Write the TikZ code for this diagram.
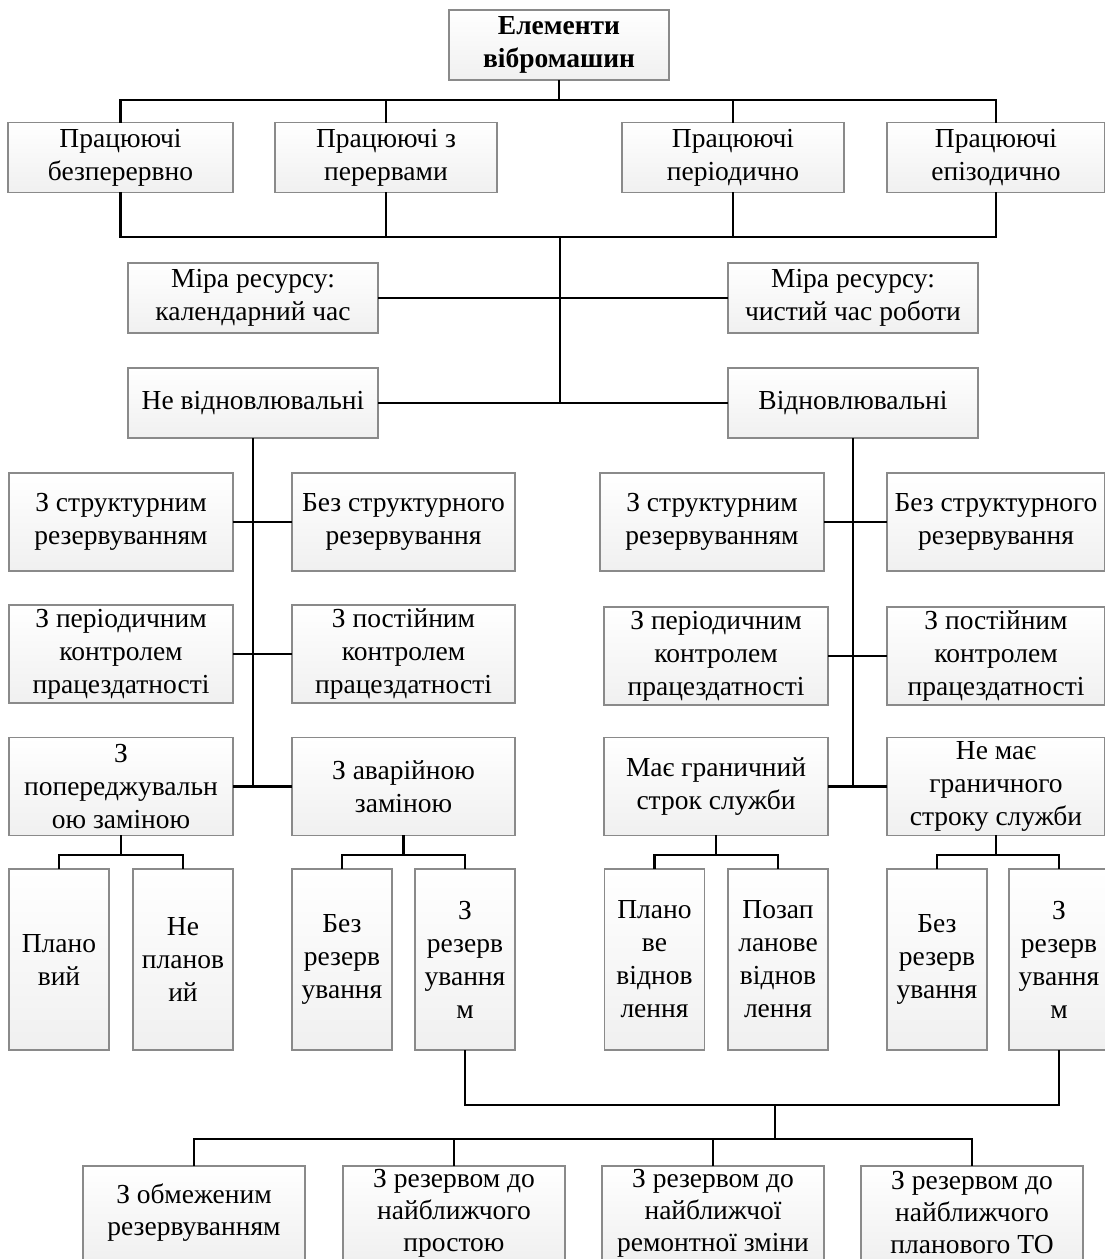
\documentclass[tikz,border=0pt]{standalone}
\usepackage{fontspec}
\setmainfont{Liberation Serif}
\usetikzlibrary{calc, positioning}

\definecolor{boxline}{RGB}{138,138,138}
\definecolor{boxfill}{RGB}{240,240,240}

\tikzset{
  box/.style={draw=boxline, line width=1.3pt, top color=white, bottom color=boxfill,
    align=center, inner sep=0pt, minimum width=#1, minimum height=98pt,
    font=\fontsize{27.5}{33}\selectfont},
  box/.default=224pt,
  wide/.style={box=#1, minimum height=70pt},
  leaf/.style={box=100pt, minimum height=181pt},
  lowbox/.style={box=222pt, minimum height=94pt, font=\fontsize{27.5}{32}\selectfont},
  link/.style={line width=2.2pt, line cap=rect}
}

\begin{document}
\begin{tikzpicture}[x=1pt, y=-1pt]
\fill[white] (0,0) rectangle (1105,1259);
\clip (0,0) rectangle (1105,1259);

% bus levels
\coordinate (busA) at (560,100);
\coordinate (busB) at (560,237);
\coordinate (busC) at (560,855);
\coordinate (busD) at (775,1105);
\coordinate (busE) at (775,1139);

% top
\node[wide=220pt, font=\fontsize{27.5}{33}\selectfont\bfseries] (top) at (559,45) {Елементи\\вібромашин};

\node[wide=225pt] (w1) at (120.5,157.5) {Працюючі\\безперервно};
\node[wide=222pt] (w2) at (386,157.5) {Працюючі з\\перервами};
\node[wide=222pt] (w3) at (733,157.5) {Працюючі\\періодично};
\node[wide=218pt] (w4) at (996,157.5) {Працюючі\\епізодично};

\node[wide=250pt] (mr1) at (253,298) {Міра ресурсу:\\календарний час};
\node[wide=250pt] (mr2) at (853,298) {Міра ресурсу:\\чистий час роботи};
\node[wide=250pt] (nv) at (253,403) {Не відновлювальні};
\node[wide=250pt] (v) at (853,403) {Відновлювальні};

% left column
\node[box] (a1) at (121,522) {З структурним\\резервуванням};
\node[box=223pt] (a2) at (403.5,522) {Без структурного\\резервування};
\node[box] (b1) at (121,654) {З періодичним\\контролем\\працездатності};
\node[box=223pt] (b2) at (403.5,654) {З постійним\\контролем\\працездатності};
\node[box] (c1) at (121,786.5) {З\\попереджувальн\\ою заміною};
\node[box=223pt] (c2) at (403.5,786.5) {З аварійною\\заміною};

% right column
\node[box] (ra1) at (712,522) {З структурним\\резервуванням};
\node[box=218pt] (ra2) at (996,522) {Без структурного\\резервування};
\node[box] (rb1) at (716,656) {З періодичним\\контролем\\працездатності};
\node[box=218pt] (rb2) at (996,656) {З постійним\\контролем\\працездатності};
\node[box] (rc1) at (716,786.5) {Має граничний\\строк служби};
\node[box=218pt] (rc2) at (996,786.5) {Не має\\граничного\\строку служби};

% leaves
\node[leaf] (p1) at (59,959.5) {Плано\\вий};
\node[leaf] (p2) at (183,959.5) {Не\\планов\\ий};
\node[leaf] (p3) at (342,959.5) {Без\\резерв\\ування};
\node[leaf] (p4) at (465,959.5) {З\\резерв\\ування\\м};
\node[leaf] (p5) at (654.5,959.5) {Плано\\ве\\віднов\\лення};
\node[leaf] (p6) at (778,959.5) {Позап\\ланове\\віднов\\лення};
\node[leaf] (p7) at (937,959.5) {Без\\резерв\\ування};
\node[leaf] (p8) at (1059,959.5) {З\\резерв\\ування\\м};

% bottom row
\node[lowbox] (q1) at (194,1213) {З обмеженим\\резервуванням};
\node[lowbox] (q2) at (454,1213) {З резервом до\\найближчого\\простою};
\node[lowbox] (q3) at (713,1213) {З резервом до\\найближчої\\ремонтної зміни};
\node[lowbox] (q4) at (972,1213) {З резервом до\\найближчого\\планового ТО};

% connectors, top part
\draw[link] (top.south) -- (top.south |- busA);
\draw[link] (w1.north |- busA) -- (w4.north |- busA);
\foreach \n in {w1,w2,w3,w4}
  \draw[link] (\n.north) -- (\n.north |- busA);
\foreach \n in {w1,w2,w3,w4}
  \draw[link] (\n.south) -- (\n.south |- busB);
\draw[link] (w1.south |- busB) -- (w4.south |- busB);
\draw[link] (busB) -- (busB |- nv.east);
\draw[link] (mr1.east) -- (mr2.west);
\draw[link] (nv.east) -- (v.west);

% connectors, columns
\draw[link] (nv.south) -- (nv.south |- c1.east);
\draw[link] (v.south) -- (v.south |- rc1.east);
\foreach \l/\r in {a1/a2,b1/b2,c1/c2,ra1/ra2,rb1/rb2,rc1/rc2}
  \draw[link] (\l.east) -- (\r.west);

% connectors, leaves
\foreach \u/\l/\r in {c1/p1/p2,c2/p3/p4,rc1/p5/p6,rc2/p7/p8} {
  \draw[link] (\u.south) -- (\u.south |- busC);
  \draw[link] (\l.north) -- (\l.north |- busC) -- (\r.north |- busC) -- (\r.north);
}

% connectors, bottom row
\draw[link] (p4.south) -- (p4.south |- busD) -- (p8.south |- busD) -- (p8.south);
\draw[link] (busD) -- (busE);
\draw[link] (q1.north |- busE) -- (q4.north |- busE);
\foreach \n in {q1,q2,q3,q4}
  \draw[link] (\n.north) -- (\n.north |- busE);
\end{tikzpicture}
\end{document}
